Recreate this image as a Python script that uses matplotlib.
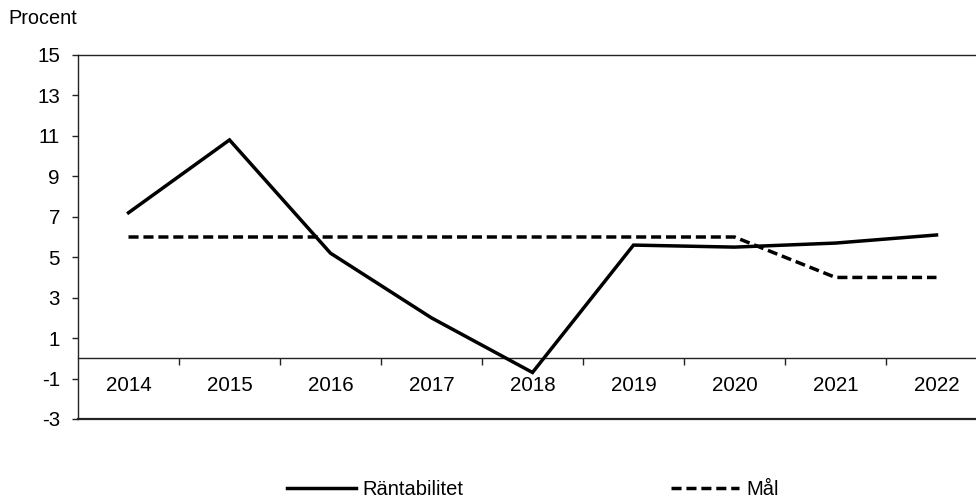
import numpy as np
import matplotlib
matplotlib.use("Agg")
import matplotlib.pyplot as plt
from matplotlib.ticker import FixedLocator

plt.rcParams['font.family'] = ['Liberation Sans', 'DejaVu Sans']

years = ['2014', '2015', '2016', '2017', '2018', '2019', '2020', '2021', '2022']
rantabilitet = [7.2, 10.8, 5.2, 2.0, -0.7, 5.6, 5.5, 5.7, 6.1]
mal = [6, 6, 6, 6, 6, 6, 6, 4, 4]
yticks = [-3, -1, 1, 3, 5, 7, 9, 11, 13, 15]

W, H = 976, 501
fig = plt.figure(figsize=(W / 100, H / 100), dpi=100)
# axes extends a bit past the right edge like the original
ax = fig.add_axes([78 / W, (H - 419) / H, (987 - 78) / W, (419 - 55) / H])

x = np.arange(len(years))
ax.plot(x, rantabilitet, color='black', lw=2.5, solid_joinstyle='miter', label='Räntabilitet', zorder=3)
ax.plot(x, mal, color='black', lw=2.5, linestyle=(0, (2.9, 1.4)), label='Mål', zorder=3)

ax.set_xlim(-0.5, len(years) - 0.5)
ax.set_ylim(-3, 15)
ax.set_yticks(yticks)
ax.set_yticklabels([str(v) for v in yticks])

# category axis sits at zero
ax.spines['bottom'].set_position(('data', 0))
ax.spines['right'].set_visible(False)
for s in ['left', 'top', 'bottom']:
    ax.spines[s].set_color('#222222')
    ax.spines[s].set_linewidth(1.0)
ax.axhline(-3, color='#222222', lw=1.6, clip_on=False)

ax.set_xticks(x)
ax.set_xticklabels(years)
ax.xaxis.set_minor_locator(FixedLocator(x[:-1] + 0.5))
ax.tick_params(axis='x', which='major', length=0, pad=13, labelsize=14.8)
ax.tick_params(axis='x', which='minor', length=5, width=1, direction='out', color='#222222')
ax.tick_params(axis='y', length=4, width=1, direction='out', pad=9, labelsize=14.8, color='#222222')

fig.text(8 / W, 1 - 18 / H, 'Procent', fontsize=14.3, va='center', ha='left')

fig.legend(loc='lower center', bbox_to_anchor=(0.546, -0.033), ncol=2, frameon=False,
           fontsize=14.5, handlelength=3.4, handletextpad=0.33, columnspacing=10.3)

fig.savefig('out.png', dpi=100)
